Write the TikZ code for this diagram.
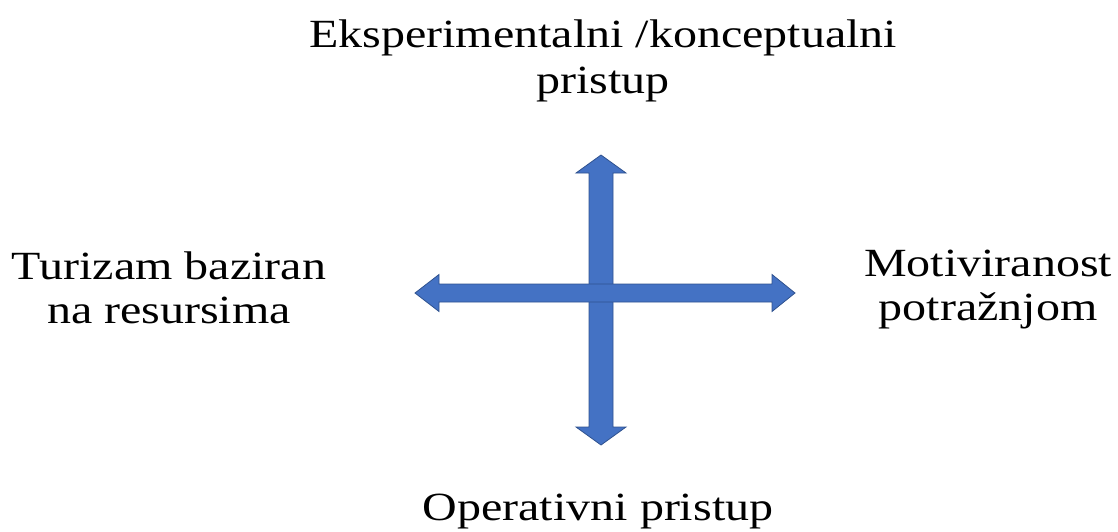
\documentclass[tikz,border=0pt]{standalone}
\usepackage{fontspec}
\setmainfont{Liberation Serif}
\definecolor{arrowfill}{HTML}{4472C4}
\definecolor{arrowline}{HTML}{2F528F}

\begin{document}
\begin{tikzpicture}[x=1pt, y=-1pt,
  lbl/.style={align=center, inner sep=0pt, xscale=1.2, transform shape,
    font=\fontsize{40}{44}\selectfont},
  bigarrow/.style={fill=arrowfill, draw=arrowline, line width=0.8pt, line join=miter}]
\useasboundingbox (0,0) rectangle (1118,531);

% vertical arrow
\draw[bigarrow] (601,155) -- (626,173) -- (613,173) -- (613,427) -- (626,427)
  -- (601,445) -- (576,427) -- (589,427) -- (589,173) -- (576,173) -- cycle;
% horizontal arrow
\draw[bigarrow] (415,293) -- (439,274.5) -- (439,284) -- (772,284) -- (772,274.5)
  -- (795,293) -- (772,311.5) -- (772,302) -- (439,302) -- (439,311.5) -- cycle;

\node[lbl, font=\fontsize{40}{46}\selectfont] (top) at (603,61) {Eksperimentalni /konceptualni\\pristup};
\node[lbl] (left) at (169,288) {Turizam baziran\\na resursima};
\node[lbl] (right) at (988,290) {Motiviranost\\potražnjom};
\node[lbl] (bottom) at (598,512) {Operativni pristup};

\end{tikzpicture}
\end{document}
